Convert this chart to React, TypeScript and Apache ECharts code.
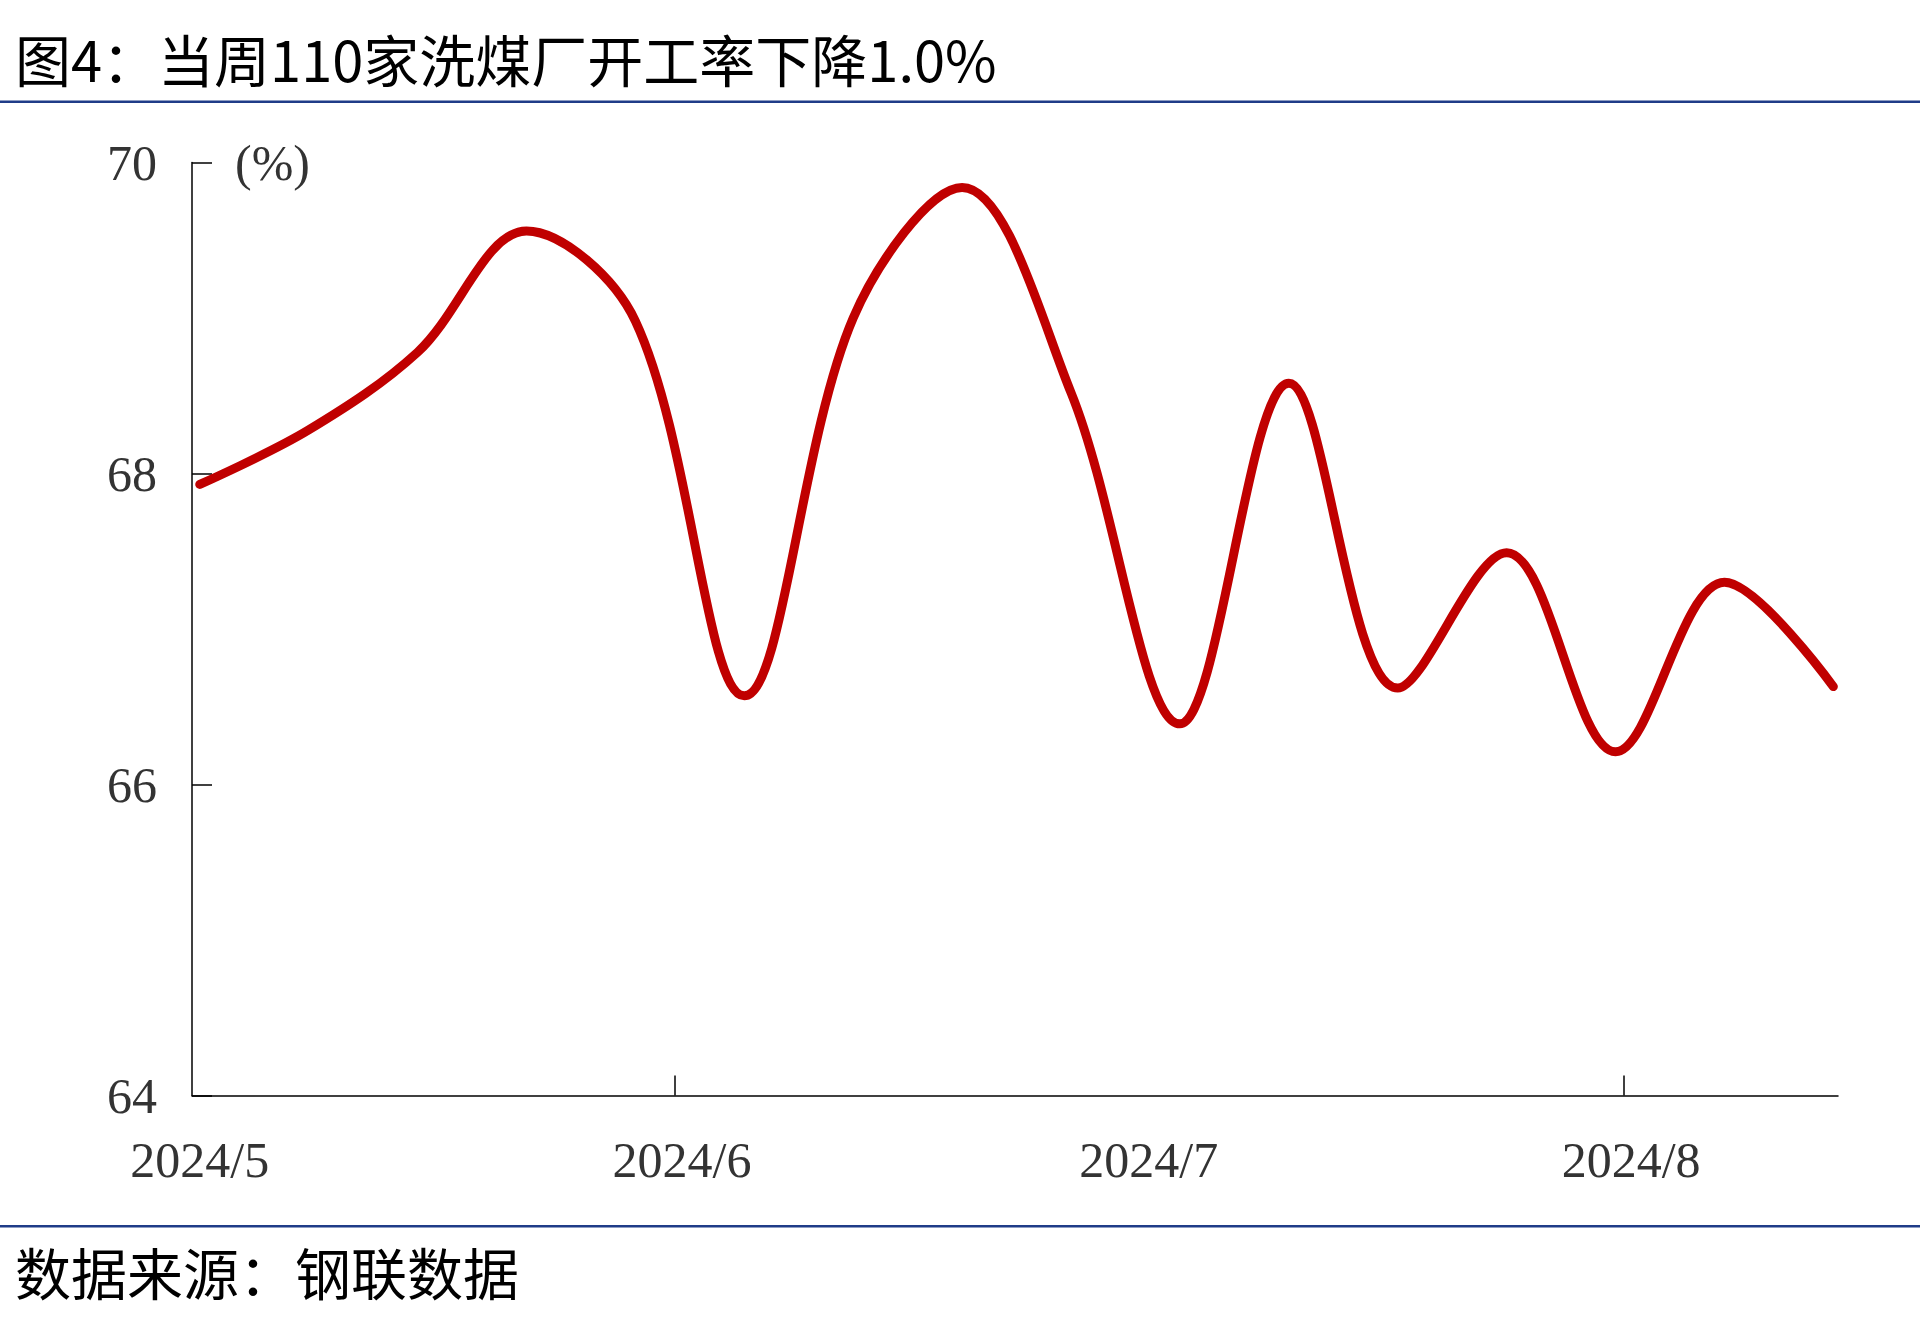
import React, { useEffect, useRef } from "react";
import * as echarts from "echarts";

// ---- data ----
const dates = [
  "2024-05-01", "2024-05-08", "2024-05-15", "2024-05-22", "2024-05-29",
  "2024-06-05", "2024-06-12", "2024-06-19", "2024-06-26",
  "2024-07-03", "2024-07-10", "2024-07-17", "2024-07-24", "2024-07-31",
  "2024-08-07", "2024-08-14",
];
const values = [
  67.93, 68.28, 68.78, 69.56, 68.98,
  66.57, 69.0, 69.84, 68.52,
  66.39, 68.58, 66.62, 67.49, 66.21,
  67.3, 66.63,
];
const monthStarts = ["2024-05-01", "2024-06-01", "2024-07-01", "2024-08-01"];
const xTickLabels = ["2024/5", "2024/6", "2024/7", "2024/8"];
const tickedMonths = ["2024-06-01", "2024-08-01"];
const yTicks = [64, 66, 68, 70];

const titleText = "图4：当周110家洗煤厂开工率下降1.0%";
const sourceText = "数据来源：钢联数据";
const unitText = "(%)";

const BASE = Date.UTC(2024, 4, 1);
const dayOf = (d: string) => (Date.parse(d) - BASE) / 86400000;

const SERIF = '"Liberation Serif", "Times New Roman", serif';
const CJK = '"Noto Sans CJK SC", sans-serif';

export default function App() {
  const ref = useRef<HTMLDivElement>(null);
  useEffect(() => {
    document.body.style.margin = "0";
    const chart = echarts.init(ref.current!, null, { renderer: "svg" });
    const labelVals = monthStarts.map((d) => dayOf(d) + 0.5);
    const option: any = {
      animation: false,
      backgroundColor: "#ffffff",
      grid: { left: 192, right: 82, top: 162.5, bottom: 235.5, containLabel: false },
      xAxis: {
        type: "value",
        min: 0,
        max: 105.8,
        axisLine: { show: true, lineStyle: { color: "#000", width: 1.5 } },
        axisTick: {
          show: true,
          inside: true,
          length: 20,
          customValues: tickedMonths.map(dayOf),
          lineStyle: { color: "#000", width: 1.5 },
        },
        axisLabel: {
          customValues: labelVals,
          formatter: (v: number) => {
            const i = labelVals.findIndex((x) => Math.abs(x - v) < 0.01);
            return i >= 0 ? xTickLabels[i] : "";
          },
          fontFamily: SERIF,
          fontSize: 50,
          color: "#333",
          margin: 39,
        },
        splitLine: { show: false },
      },
      yAxis: {
        type: "value",
        min: 64,
        max: 70,
        interval: 2,
        axisLine: { show: true, lineStyle: { color: "#000", width: 1.5 } },
        axisTick: {
          show: true,
          inside: true,
          length: 20,
          customValues: yTicks,
          lineStyle: { color: "#000", width: 1.5 },
        },
        axisLabel: {
          fontFamily: SERIF,
          fontSize: 50,
          color: "#333",
          margin: 35,
        },
        splitLine: { show: false },
      },
      series: [
        {
          type: "line",
          data: dates.map((d, i) => [dayOf(d) + 0.5, values[i]]),
          smooth: 0.35,
          symbol: "none",
          clip: false,
          lineStyle: { color: "#C00000", width: 9, cap: "round", join: "round" },
        },
      ],
      graphic: [
        {
          type: "text",
          x: 15,
          y: 57,
          style: { text: titleText, fontSize: 56, fontFamily: CJK, fill: "#000", align: "left", verticalAlign: "middle" },
        },
        {
          type: "rect",
          shape: { x: 0, y: 100.5, width: 1920, height: 2.5 },
          style: { fill: "#1F3C88" },
        },
        {
          type: "text",
          x: 235,
          y: 163,
          style: { text: unitText, fontSize: 50, fontFamily: SERIF, fill: "#333", align: "left", verticalAlign: "middle" },
        },
        {
          type: "rect",
          shape: { x: 0, y: 1225, width: 1920, height: 2.5 },
          style: { fill: "#1F3C88" },
        },
        {
          type: "text",
          x: 15,
          y: 1270,
          style: { text: sourceText, fontSize: 56, fontFamily: CJK, fill: "#000", align: "left", verticalAlign: "middle" },
        },
      ],
    };
    chart.setOption(option);
    return () => chart.dispose();
  }, []);
  return <div ref={ref} style={{ width: 1920, height: 1331 }} />;
}
